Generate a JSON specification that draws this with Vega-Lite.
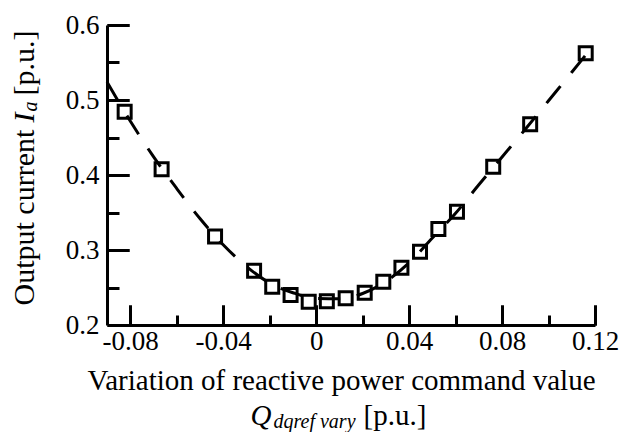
{
  "$schema": "https://vega.github.io/schema/vega-lite/v6.json",
  "width": 488,
  "height": 300,
  "autosize": "none",
  "padding": {"left": 107, "top": 25, "right": 26, "bottom": 107},
  "background": "white",
  "config": {
    "view": {"stroke": null},
    "font": "Liberation Serif",
    "axis": {
      "zindex": 1,
      "grid": false, "domainColor": "black", "domainWidth": 3, "tickColor": "black", "tickWidth": 3,
      "labelFont": "Liberation Serif", "labelFontSize": 27, "labelColor": "black", "labelFlush": false, "labelOverlap": false,
      "titleFont": "Liberation Serif", "titleFontSize": 29, "titleFontWeight": "normal", "titleColor": "black",
      "titleBaseline": "alphabetic"
    }
  },
  "datasets": {
    "curve": [
      {"q": -0.09, "ia": 0.524}, {"q": -0.08, "ia": 0.472}, {"q": -0.07, "ia": 0.4245},
      {"q": -0.06, "ia": 0.382}, {"q": -0.05, "ia": 0.342}, {"q": -0.04, "ia": 0.307},
      {"q": -0.03, "ia": 0.278}, {"q": -0.02, "ia": 0.256}, {"q": -0.01, "ia": 0.243},
      {"q": 0.0, "ia": 0.2355}, {"q": 0.01, "ia": 0.235}, {"q": 0.02, "ia": 0.242},
      {"q": 0.03, "ia": 0.258}, {"q": 0.04, "ia": 0.283}, {"q": 0.05, "ia": 0.316},
      {"q": 0.06, "ia": 0.349}, {"q": 0.07, "ia": 0.387}, {"q": 0.08, "ia": 0.424},
      {"q": 0.09, "ia": 0.461}, {"q": 0.10, "ia": 0.499}, {"q": 0.11, "ia": 0.537},
      {"q": 0.1195, "ia": 0.5735}
    ],
    "meas": [
      {"q": -0.0824, "ia": 0.4844}, {"q": -0.0665, "ia": 0.4076}, {"q": -0.0435, "ia": 0.318},
      {"q": -0.0267, "ia": 0.2724}, {"q": -0.0189, "ia": 0.251}, {"q": -0.011, "ia": 0.240},
      {"q": -0.0032, "ia": 0.231}, {"q": 0.0046, "ia": 0.2318}, {"q": 0.0127, "ia": 0.2356},
      {"q": 0.0209, "ia": 0.243}, {"q": 0.0289, "ia": 0.2578}, {"q": 0.0367, "ia": 0.2764},
      {"q": 0.0447, "ia": 0.2977}, {"q": 0.0526, "ia": 0.328}, {"q": 0.0606, "ia": 0.351},
      {"q": 0.0762, "ia": 0.411}, {"q": 0.0921, "ia": 0.4676}, {"q": 0.116, "ia": 0.5623}
    ],
    "none": []
  },
  "resolve": {"axis": {"x": "independent", "y": "independent"}},
  "layer": [
    {
      "data": {"name": "meas"},
      "mark": {"type": "point", "shape": "square", "filled": false, "color": "black", "strokeWidth": 3, "size": 169, "opacity": 1},
      "encoding": {
        "x": {
          "field": "q", "type": "quantitative",
          "scale": {"domain": [-0.09, 0.12], "nice": false, "zero": false},
          "axis": {
            "orient": "bottom",
            "values": [-0.08, -0.04, 0, 0.04, 0.08, 0.12],
            "tickSize": -20,
            "labelExpr": "'' + round(datum.value*100)/100",
            "labelPadding": 23,
            "title": "Variation of reactive power command value",
            "titleX": 234, "titleY": 64, "titleAlign": "center", "titleAngle": 0
          }
        },
        "y": {
          "field": "ia", "type": "quantitative",
          "scale": {"domain": [0.2, 0.6], "nice": false, "zero": false},
          "axis": {
            "orient": "left",
            "values": [0.2, 0.3, 0.4, 0.5, 0.6],
            "tickSize": -22,
            "labelExpr": "'' + round(datum.value*10)/10",
            "labelPadding": 30,
            "title": "Output current",
            "titleFontSize": 30,
            "titleX": -74, "titleY": 280, "titleAlign": "left", "titleAngle": -90
          }
        }
      }
    },
    {
      "data": {"name": "curve"},
      "mark": {"type": "line", "color": "black", "strokeWidth": 3, "strokeDash": [22, 17], "interpolate": "monotone"},
      "encoding": {
        "x": {"field": "q", "type": "quantitative", "axis": null},
        "y": {"field": "ia", "type": "quantitative", "axis": null}
      }
    },
    {
      "data": {"name": "none"},
      "mark": {"type": "point", "opacity": 0},
      "encoding": {
        "x": {"field": "q", "type": "quantitative", "axis": {
          "orient": "top", "offset": -300,
          "values": [-0.08, -0.04, 0, 0.04, 0.08, 0.12], "tickSize": 20, "domain": false, "labels": false, "title": null
        }},
        "y": {"field": "ia", "type": "quantitative", "axis": {
          "orient": "right", "offset": -488,
          "values": [0.3, 0.4, 0.5, 0.6], "tickSize": 22, "domain": false, "labels": false, "title": null
        }}
      }
    },
    {
      "data": {"name": "none"},
      "mark": {"type": "point", "opacity": 0},
      "encoding": {
        "x": {"field": "q", "type": "quantitative", "axis": {
          "orient": "top", "offset": -300,
          "values": [-0.06, -0.02, 0.02, 0.06, 0.10], "tickSize": 10, "domain": false, "labels": false, "title": null
        }},
        "y": {"field": "ia", "type": "quantitative", "axis": {
          "orient": "right", "offset": -488,
          "values": [0.25, 0.35, 0.45, 0.55], "tickSize": 12, "domain": false, "labels": false, "title": null
        }}
      }
    },
    {
      "data": {"name": "none"},
      "mark": {"type": "point", "opacity": 0},
      "encoding": {
        "x": {"field": "q", "type": "quantitative", "axis": {
          "orient": "bottom", "domain": false, "ticks": false, "labels": false,
          "title": "Q", "titleFontStyle": "italic", "titleX": 143, "titleY": 99, "titleAlign": "left", "titleAngle": 0
        }},
        "y": {"field": "ia", "type": "quantitative", "axis": {
          "orient": "left", "domain": false, "ticks": false, "labels": false,
          "title": "I", "titleFontStyle": "italic", "titleFontSize": 30, "titleX": -74, "titleY": 97, "titleAlign": "left", "titleAngle": -90
        }}
      }
    },
    {
      "data": {"name": "none"},
      "mark": {"type": "point", "opacity": 0},
      "encoding": {
        "x": {"field": "q", "type": "quantitative", "axis": {
          "orient": "bottom", "domain": false, "ticks": false, "labels": false,
          "title": "dqref vary", "titleFontStyle": "italic", "titleFontSize": 20, "titleX": 166, "titleY": 102, "titleAlign": "left", "titleAngle": 0
        }},
        "y": {"field": "ia", "type": "quantitative", "axis": {
          "orient": "left", "domain": false, "ticks": false, "labels": false,
          "title": "a", "titleFontStyle": "italic", "titleFontSize": 20, "titleX": -71, "titleY": 86, "titleAlign": "left", "titleAngle": -90
        }}
      }
    },
    {
      "data": {"name": "none"},
      "mark": {"type": "point", "opacity": 0},
      "encoding": {
        "x": {"field": "q", "type": "quantitative", "axis": {
          "orient": "bottom", "domain": false, "ticks": false, "labels": false,
          "title": "[p.u.]", "titleX": 256, "titleY": 99, "titleAlign": "left", "titleAngle": 0
        }},
        "y": {"field": "ia", "type": "quantitative", "axis": {
          "orient": "left", "domain": false, "ticks": false, "labels": false,
          "title": "[p.u.]", "titleFontSize": 30, "titleX": -74, "titleY": 70, "titleAlign": "left", "titleAngle": -90
        }}
      }
    }
  ]
}
